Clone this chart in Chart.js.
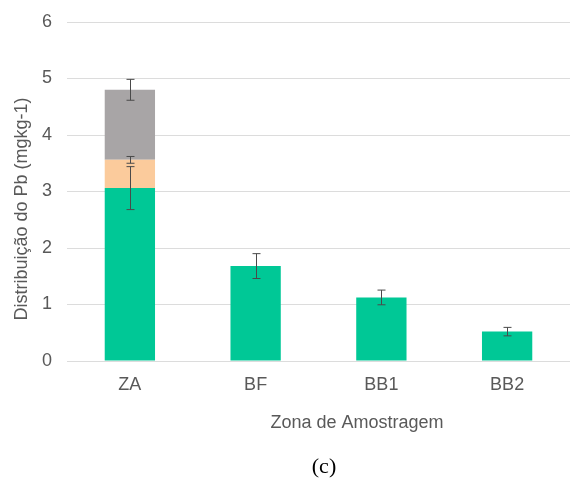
<!DOCTYPE html>
<html>
<head>
<meta charset="utf-8">
<script src="https://cdn.jsdelivr.net/npm/chart.js@4.4.1/dist/chart.umd.min.js"></script>
<style>
  html, body { margin: 0; padding: 0; background: #ffffff; }
  #wrap { width: 570px; height: 484px; position: relative; }
</style>
</head>
<body>
<div id="wrap"><canvas id="c" width="570" height="484"></canvas></div>
<script>
// Sampling zones and Pb fractions (mg kg-1), stacked
const zonas = ['ZA', 'BF', 'BB1', 'BB2'];
const fracaoVerde  = [3.06, 1.68, 1.125, 0.52];
const fracaoLaranja = [0.50, 0, 0, 0];
const fracaoCinza  = [1.24, 0, 0, 0];
// Standard deviations of each fraction (drawn at the top of each segment)
const erroVerde   = [0.38, 0.22, 0.13, 0.075];
const erroLaranja = [0.06, 0, 0, 0];
const erroCinza   = [0.185, 0, 0, 0];
const yTicks = [0, 1, 2, 3, 4, 5, 6];

const tituloX = 'Zona de Amostragem';
const tituloY = 'Distribuição do Pb (mgkg-1)';
const legenda = '(c)';

const FONT = '"Liberation Sans", Arial, sans-serif';
const TEXT = '#595959';

const erros = [erroVerde, erroLaranja, erroCinza];

// Error bars on top of each stacked segment
const errorBars = {
  id: 'errorBars',
  afterDatasetsDraw(chart) {
    const ctx = chart.ctx;
    const y = chart.scales.y;
    ctx.save();
    ctx.strokeStyle = '#4a4a4a';
    ctx.lineWidth = 1;
    chart.data.datasets.forEach((ds, di) => {
      const meta = chart.getDatasetMeta(di);
      meta.data.forEach((bar, i) => {
        const e = erros[di][i];
        if (!e) return;
        let top = 0;
        for (let k = 0; k <= di; k++) top += chart.data.datasets[k].data[i];
        const x = Math.round(bar.x) + 0.5;
        const y1 = y.getPixelForValue(top + e);
        const y2 = y.getPixelForValue(top - e);
        const cap = 4;
        ctx.beginPath();
        ctx.moveTo(x, y1); ctx.lineTo(x, y2);
        ctx.moveTo(x - cap, y1); ctx.lineTo(x + cap, y1);
        ctx.moveTo(x - cap, y2); ctx.lineTo(x + cap, y2);
        ctx.stroke();
      });
    });
    ctx.restore();
  }
};

// Axis titles and panel caption
const titles = {
  id: 'titles',
  afterDraw(chart) {
    const ctx = chart.ctx;
    ctx.save();
    ctx.fillStyle = TEXT;
    ctx.textAlign = 'center';
    ctx.textBaseline = 'middle';
    ctx.font = '18px ' + FONT;
    ctx.fillText(tituloX, 357, 423);
    ctx.save();
    ctx.translate(22, 209);
    ctx.rotate(-Math.PI / 2);
    ctx.fillText(tituloY, 0, 0);
    ctx.restore();
    ctx.fillStyle = '#000000';
    ctx.font = '22px "Liberation Serif", "Times New Roman", serif';
    ctx.fillText(legenda, 324, 467);
    ctx.restore();
  }
};

new Chart(document.getElementById('c'), {
  type: 'bar',
  data: {
    labels: zonas,
    datasets: [
      { data: fracaoVerde, backgroundColor: '#00C896' },
      { data: fracaoLaranja, backgroundColor: '#FBCB9C' },
      { data: fracaoCinza, backgroundColor: '#A8A5A6' }
    ]
  },
  options: {
    responsive: false,
    animation: false,
    devicePixelRatio: 1,
    layout: { padding: { top: 22, right: 0, left: 0, bottom: 0 } },
    datasets: { bar: { categoryPercentage: 1, barPercentage: 0.4, borderWidth: 0 } },
    plugins: { legend: { display: false }, tooltip: { enabled: false } },
    scales: {
      x: {
        stacked: true,
        grid: { display: false },
        border: { display: false },
        ticks: { color: TEXT, font: { family: FONT, size: 18 }, padding: 5 },
        afterFit(s) { s.height = 123; s.paddingLeft = 0; s.paddingRight = 0; }
      },
      y: {
        stacked: true,
        min: 0, max: 6,
        afterBuildTicks(s) { s.ticks = yTicks.map(v => ({ value: v })); },
        grid: { color: '#dcdcdc', lineWidth: 1, drawTicks: false },
        border: { display: false },
        ticks: { color: TEXT, font: { family: FONT, size: 18 }, padding: 15 },
        afterFit(s) { s.width = 67; s.paddingTop = 0; s.paddingBottom = 0; }
      }
    }
  },
  plugins: [errorBars, titles]
});
</script>
</body>
</html>
